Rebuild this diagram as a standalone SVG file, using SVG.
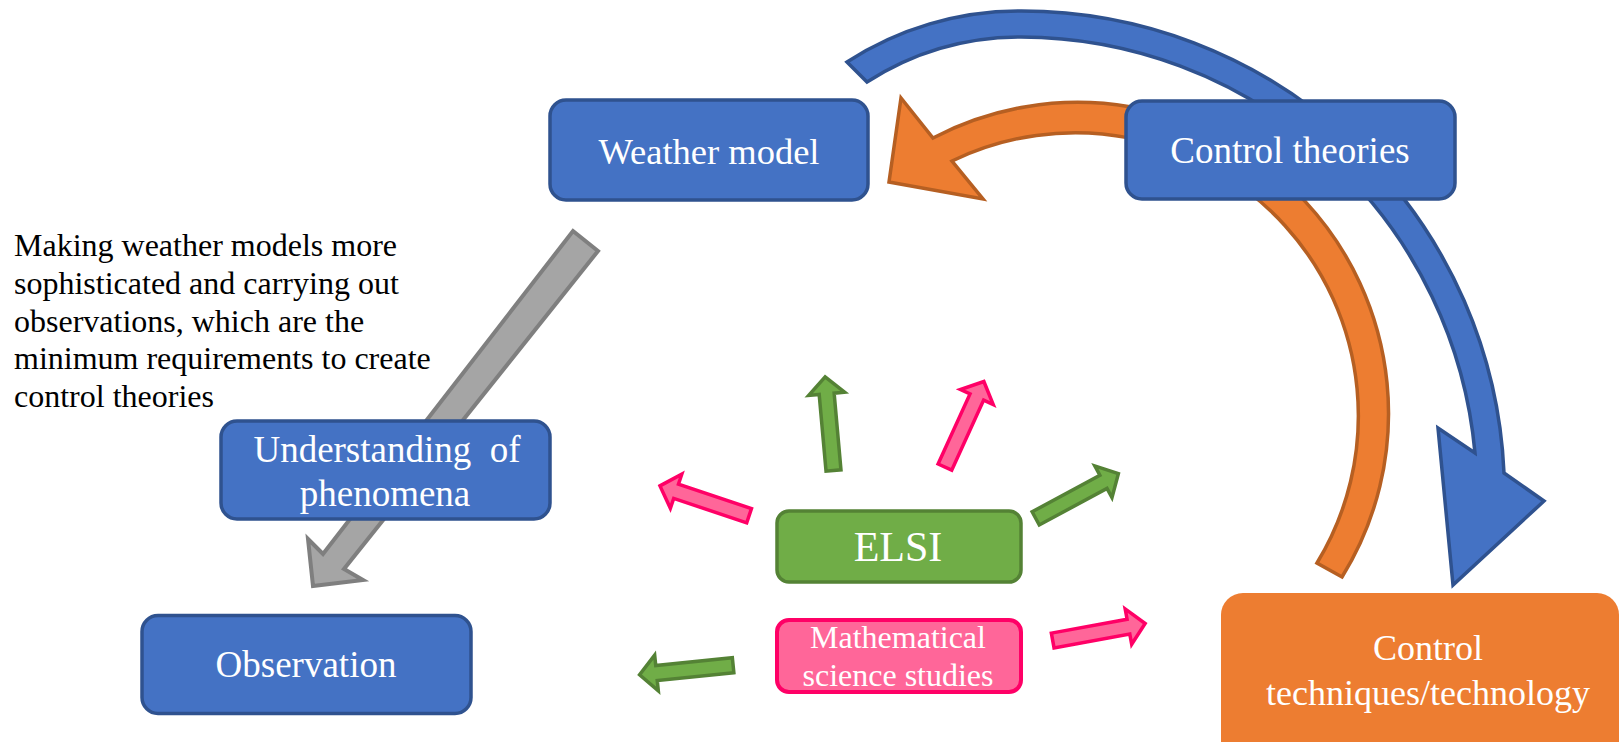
<svg xmlns="http://www.w3.org/2000/svg" xmlns:xlink="http://www.w3.org/1999/xlink" width="1619" height="742" viewBox="0 0 1619 742">
  <style>
    .blue { fill: #4472C4; stroke: #2F528F; stroke-width: 3.5; }
    .elsi { fill: #70AD47; stroke: #548235; stroke-width: 3.5; }
    .math { fill: #FF6699; stroke: #FF0066; stroke-width: 4; }
    .tech { fill: #ED7D31; }
    .lbl { font-family: "Liberation Serif", "Times New Roman", serif; fill: #FFFFFF; text-anchor: middle; }
    .note { font-family: "Liberation Serif", "Times New Roman", serif; fill: #000000; font-size: 32px; }
    .ga { fill: #70AD47; stroke: #548235; stroke-width: 3.5; stroke-linejoin: miter; }
    .pa { fill: #FF6699; stroke: #FF0066; stroke-width: 3.5; stroke-linejoin: miter; }
    .curveBlue { fill: #4472C4; stroke: #2F528F; stroke-width: 3.5; stroke-linejoin: miter; }
    .curveOrange { fill: #ED7D31; stroke: #B65F22; stroke-width: 3.5; stroke-linejoin: miter; }
    .gray { fill: #A5A5A5; stroke: #7F7F7F; stroke-width: 4; stroke-linejoin: miter; }
  </style>
  <defs>
    <path id="sa" d="M0,-7.5 H77 V-18 L94,0 L77,18 V7.5 H0 Z"/>
  </defs>
  <rect width="1619" height="742" fill="#FFFFFF"/>

  <g id="connectors">
    <path class="curveBlue" d="M847,62 A316,316 0 0 1 1020,11 A483,483 0 0 1 1504,473 L1544,501 L1453,585 L1438,428 L1475,453 A457,457 0 0 0 1021,37 A284,284 0 0 0 867,82 Z"/>
    <path class="curveOrange" d="M933,138 A311,311 0 0 1 1342,577 L1317,563 A283,283 0 0 0 952,161 L983,199 L889,182 L901,98 Z"/>
    <polygon class="gray" points="573,231 598,251 344,569 363,580 313,586 308,539 323,554"/>
    <use xlink:href="#sa" class="pa" transform="translate(749.1,515.7) rotate(198.5)"/>
    <use xlink:href="#sa" class="ga" transform="translate(833.5,470.5) rotate(-95.1)"/>
    <use xlink:href="#sa" class="pa" transform="translate(944.9,467.1) rotate(-65.5)"/>
    <use xlink:href="#sa" class="ga" transform="translate(1035.7,518.4) rotate(-28.4)"/>
    <use xlink:href="#sa" class="ga" transform="translate(733.1,665.2) rotate(174.2)"/>
    <use xlink:href="#sa" class="pa" transform="translate(1052.7,640.5) rotate(-10.4)"/>
  </g>

  <g id="note">
    <text class="note" x="14" y="256">Making weather models more</text>
    <text class="note" x="14" y="294">sophisticated and carrying out</text>
    <text class="note" x="14" y="332">observations, which are the</text>
    <text class="note" x="14" y="369">minimum requirements to create</text>
    <text class="note" x="14" y="407">control theories</text>
  </g>

  <g id="weather-model">
    <rect class="blue" x="550" y="100" width="318" height="100" rx="16"/>
    <text class="lbl" x="709" y="164" font-size="36.5">Weather model</text>
  </g>

  <g id="control-theories">
    <rect class="blue" x="1126" y="101" width="329" height="98" rx="16"/>
    <text class="lbl" x="1290" y="163" font-size="37">Control theories</text>
  </g>

  <g id="understanding">
    <rect class="blue" x="221" y="421" width="329" height="98" rx="16"/>
    <text class="lbl" x="387" y="462" font-size="37" xml:space="preserve" style="white-space:pre">Understanding  of</text>
    <text class="lbl" x="385" y="506" font-size="37">phenomena</text>
  </g>

  <g id="observation">
    <rect class="blue" x="142" y="615.5" width="329" height="98" rx="16"/>
    <text class="lbl" x="306" y="677" font-size="37">Observation</text>
  </g>

  <g id="elsi">
    <rect class="elsi" x="777" y="511" width="244" height="71" rx="12"/>
    <text class="lbl" x="898" y="561" font-size="42">ELSI</text>
  </g>

  <g id="math-studies">
    <rect class="math" x="777" y="620" width="244" height="72" rx="12"/>
    <text class="lbl" x="898" y="648" font-size="32">Mathematical</text>
    <text class="lbl" x="898" y="686" font-size="32">science studies</text>
  </g>

  <g id="control-tech">
    <rect class="tech" x="1221" y="593" width="398" height="170" rx="22"/>
    <text class="lbl" x="1428" y="660" font-size="36">Control</text>
    <text class="lbl" x="1428" y="705" font-size="36">techniques/technology</text>
  </g>
</svg>
